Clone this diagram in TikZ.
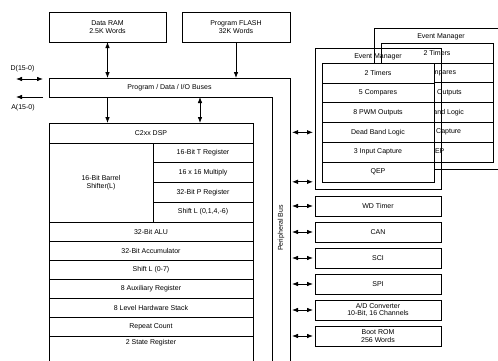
\documentclass[tikz,border=0pt]{standalone}
\usepackage{fontspec}
\setmainfont{Liberation Sans}
\usetikzlibrary{arrows.meta, positioning, calc}

\begin{document}
\begin{tikzpicture}[
  x=1pt, y=-1pt,
  node distance = 6pt and 6pt,
  >={Latex[length=6pt,width=4.6pt]},
  every node/.style={inner sep=1pt, outer sep=0pt, anchor=center, font=\fontsize{7}{7.6}\selectfont},
  line/.style={draw=black, line width=0.6pt},
  box/.style={line, rectangle, align=center},
  wrow/.style={box, minimum width=204pt, minimum height=19pt},
  nrow/.style={box, minimum width=100pt, minimum height=19.75pt},
  emrow/.style={box, fill=white, minimum width=112pt, minimum height=19.8pt},
  emframe/.style={box, minimum width=126pt, minimum height=141pt},
  periph/.style={box, minimum width=126pt, minimum height=20pt},
  link/.style={line width=0.8pt, draw=black}
]
  \useasboundingbox (0,0) rectangle (498,360);
  \clip (0,0) rectangle (498,360);
  % ----- memories -----
  \node[box, minimum width=117pt, minimum height=30pt] (ram) at (107.5,27) {Data RAM\\2.5K Words};
  \node[box, minimum width=108pt, minimum height=30pt] (flash) at (236,27) {Program FLASH\\32K Words};
  % ----- program/data bus + peripheral bus (one outline) -----
  \node[minimum width=241pt, minimum height=19pt] (bus) at (169.5,87.5) {Program / Data / I/O Buses};
  \node[minimum width=18pt, minimum height=275pt, anchor=north west] (pbus) at (272,97) {};
  \node[rotate=90] (pbuslab) at (281,228) {Peripheral Bus};
  \draw[line] (bus.north west) -| (pbus.south east) -- (pbus.south west) |- (bus.south west) -- cycle;
  % ----- external data / address lines -----
  \coordinate (d0) at (16,79);
  \coordinate (d1) at (43,79);
  \coordinate (a0) at (16,97);
  \coordinate (a1) at (43,97);
  \node (dlab) at (22.5,69) {D(15-0)};
  \node (alab) at (23,108) {A(15-0)};
  \draw[<->,link] (d0) -- (d1);
  \draw[->,link] (a1) -- (a0);
  % ----- C2xx DSP core -----
  \node[box, minimum width=204pt, minimum height=250pt, anchor=north west] (dsp) at (49,123) {};
  \node[wrow, minimum height=20pt, anchor=north west] (core) at (49,123) {C2xx DSP};
  \node[box, minimum width=104pt, minimum height=79pt, anchor=north west] (shifter) at (core.south west) {16-Bit Barrel\\Shifter(L)};
  \node[nrow, anchor=north east] (treg) at (core.south east) {16-Bit T Register};
  \node[nrow, below=0pt of treg] (mult) {16 x 16 Multiply};
  \node[nrow, below=0pt of mult] (preg) {32-Bit P Register};
  \node[nrow, below=0pt of preg] (pshift) {Shift L (0,1,4,-6)};
  \node[wrow, anchor=north west] (alu) at (shifter.south west) {32-Bit ALU};
  \node[wrow, below=0pt of alu] (acc) {32-Bit Accumulator};
  \node[wrow, below=0pt of acc] (ashift) {Shift L (0-7)};
  \node[wrow, below=0pt of ashift] (aux) {8 Auxiliary Register};
  \node[wrow, below=0pt of aux] (stack) {8 Level Hardware Stack};
  \node[wrow, below=0pt of stack] (rpt) {Repeat Count};
  \node[wrow, draw=none, minimum height=13pt, below=0pt of rpt] (state) {2 State Register};
  % ----- bus arrows -----
  \coordinate (dbus) at (200,97);
  \draw[<->,link] (ram.south) -- (ram.south |- bus.north);
  \draw[->,link] (flash.south) -- (flash.south |- bus.north);
  \draw[->,link] (bus.south -| ram.south) -- (ram.south |- core.north);
  \draw[<->,link] (dbus) -- (dbus |- core.north);
  % ----- event manager (back copy) -----
  \node[emframe, anchor=north west] (em2) at (374,28) {};
  \node (em2title) at (441,37) {Event Manager};
  \node[emrow, anchor=north west] (em2tim) at (381,43) {2 Timers};
  \node[emrow, below=0pt of em2tim] (em2cmp) {5 Compares};
  \node[emrow, below=0pt of em2cmp] (em2pwm) {8 PWM Outputs};
  \node[emrow, below=0pt of em2pwm] (em2dbl) {Dead Band Logic};
  \node[emrow, below=0pt of em2dbl] (em2cap) {3 Input Capture};
  \node[emrow, below=0pt of em2cap] (em2qep) {QEP};
  % ----- event manager (front) -----
  \node[emframe, anchor=north west] (em1) at (315,48) {};
  \node (em1title) at (378,56.5) {Event Manager};
  \node[emrow, anchor=north west] (tim) at (322,63) {2 Timers};
  \node[emrow, below=0pt of tim] (cmp) {5 Compares};
  \node[emrow, below=0pt of cmp] (pwm) {8 PWM Outputs};
  \node[emrow, below=0pt of pwm] (dbl) {Dead Band Logic};
  \node[emrow, below=0pt of dbl] (cap) {3 Input Capture};
  \node[emrow, below=0pt of cap] (qep) {QEP};
  % ----- peripherals -----
  \node[periph, anchor=north west] (wd) at (315,196) {WD Timer};
  \node[periph, below=of wd] (can) {CAN};
  \node[periph, below=of can] (sci) {SCI};
  \node[periph, below=of sci] (spi) {SPI};
  \node[periph, below=of spi] (adc) {A/D Converter\\10-Bit, 16 Channels};
  \node[periph, below=of adc] (boot) {Boot ROM\\256 Words};
  % ----- peripheral bus links -----
  \draw[<->,link,shorten <=2pt,shorten >=2pt] (pbus.east |- dbl.west) -- (dbl.west -| em1.west);
  \draw[<->,link,shorten <=2pt,shorten >=2pt] (pbus.east |- qep.south) -- (qep.south -| em1.west);
  \draw[<->,link,shorten <=2pt,shorten >=2pt] (pbus.east |- wd.west) -- (wd.west);
  \draw[<->,link,shorten <=2pt,shorten >=2pt] (pbus.east |- can.west) -- (can.west);
  \draw[<->,link,shorten <=2pt,shorten >=2pt] (pbus.east |- sci.west) -- (sci.west);
  \draw[<->,link,shorten <=2pt,shorten >=2pt] (pbus.east |- spi.west) -- (spi.west);
  \draw[<->,link,shorten <=2pt,shorten >=2pt] (pbus.east |- adc.west) -- (adc.west);
  \draw[<->,link,shorten <=2pt,shorten >=2pt] (pbus.east |- boot.west) -- (boot.west);
\end{tikzpicture}
\end{document}
